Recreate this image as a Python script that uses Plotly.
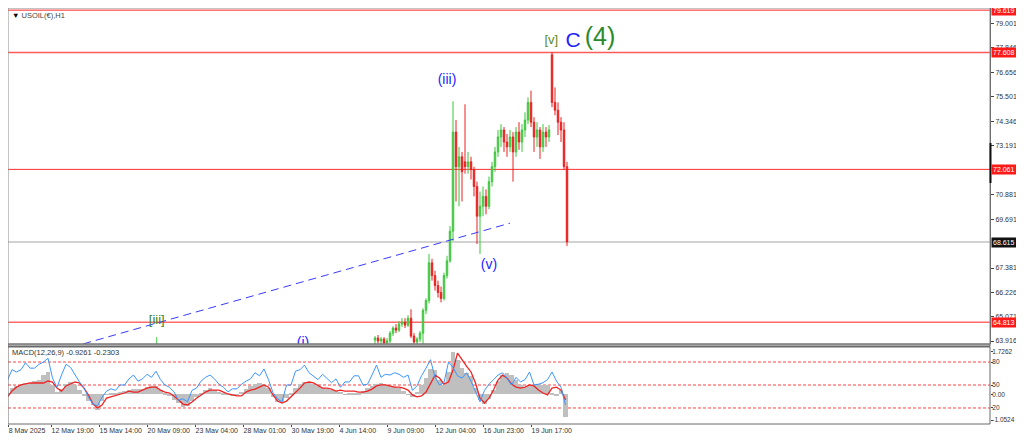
import plotly.graph_objects as go

# ---- price candles: H1 bar index, each candle spans 4 hourly bars ----
candle_bars = [205] + list(range(496, 753, 4))
candle_open = [63.20,
               63.96, 64.06, 63.92, 64.01, 63.82, 63.92, 64.29, 64.53, 64.43, 64.72,
               64.81, 64.67, 65.00, 64.15, 63.87, 64.01, 64.29, 65.37, 65.84, 67.63,
               67.02, 66.55, 66.22, 65.94, 67.02, 67.72, 69.13, 73.83, 72.19, 72.66,
               72.42, 72.19, 72.42, 72.05, 71.25, 69.84, 70.31, 70.78, 70.31, 71.48,
               72.19, 72.89, 73.60, 73.93, 73.36, 73.13, 73.60, 72.89, 73.83, 73.36,
               73.93, 74.40, 75.24, 74.30, 73.60, 73.93, 73.13, 73.83, 73.60, 77.50,
               75.24, 74.87, 74.30, 73.93, 72.19]
candle_high = [64.10,
               64.15, 64.20, 64.10, 64.10, 64.06, 64.39, 64.62, 64.72, 64.86, 65.00,
               65.00, 65.14, 65.42, 64.29, 64.10, 64.39, 65.47, 65.94, 68.05, 67.82,
               67.25, 66.78, 66.50, 67.16, 67.96, 69.37, 75.29, 74.40, 73.13, 72.89,
               75.15, 72.89, 72.66, 72.19, 71.48, 71.01, 71.25, 71.11, 71.72, 72.42,
               73.13, 73.93, 74.21, 74.07, 73.74, 73.93, 73.83, 74.07, 74.30, 74.21,
               74.77, 75.48, 75.80, 74.54, 74.30, 74.07, 74.21, 74.07, 74.16, 77.62,
               75.95, 75.24, 74.54, 74.30, 72.42]
candle_low = [63.00,
              63.78, 63.78, 63.73, 63.68, 63.68, 63.82, 64.15, 64.29, 64.34, 64.58,
              64.53, 64.58, 64.06, 63.73, 63.73, 63.87, 63.78, 65.19, 65.70, 66.78,
              66.31, 65.98, 65.75, 65.84, 66.88, 67.63, 68.66, 70.54, 70.31, 70.54,
              71.86, 71.86, 71.58, 70.78, 68.52, 68.05, 69.84, 69.93, 70.17, 71.25,
              71.95, 72.66, 73.13, 72.89, 72.66, 72.89, 71.48, 72.66, 72.99, 72.89,
              73.60, 74.21, 74.07, 72.89, 73.13, 72.56, 72.89, 73.13, 73.36, 75.01,
              74.63, 73.69, 73.36, 72.05, 68.43]
candle_close = [63.70,
                64.06, 63.92, 64.01, 63.82, 63.92, 64.29, 64.53, 64.43, 64.72, 64.81,
                64.67, 65.00, 64.15, 63.87, 64.01, 64.29, 65.37, 65.84, 67.63, 67.02,
                66.55, 66.22, 65.94, 67.02, 67.72, 69.13, 73.83, 72.19, 72.66, 71.95,
                72.19, 72.42, 72.05, 71.25, 69.84, 70.31, 70.78, 70.31, 71.48, 72.19,
                72.89, 73.60, 73.93, 73.36, 73.13, 73.60, 72.89, 73.83, 73.36, 73.93,
                74.40, 75.24, 74.30, 73.60, 73.93, 73.13, 73.83, 73.60, 73.93, 75.24,
                74.87, 74.30, 73.93, 72.19, 68.62]

# horizontal levels
level_prices = [79.619, 77.608, 72.061, 64.813]
bid_price = 68.615

# blue dashed trendline
trend_bars = [107, 676]
trend_prices = [63.78, 69.51]

# Elliott wave labels
wave_text = ['[iii]', '(i)', '(iii)', '(v)', '[v]', 'C', '(4)']
wave_bars = [205, 400, 592, 648, 731, 760, 796]
wave_prices = [64.90, 63.80, 76.27, 67.49, 78.15, 78.11, 78.25]
wave_colors = ['#3d7f22', '#2323ff', '#2323ff', '#2323ff', '#5e8a1c', '#2323ff', '#2a8a2a']
wave_sizes = [13, 14, 14, 14, 13, 21, 25]

# price axis labels
price_tick_vals = [79.001, 77.846, 76.656, 75.501, 74.346, 73.191, 70.881, 69.691,
                   67.381, 66.226, 65.071, 63.916]

# time axis (first label sits at the left edge of the window)
time_tick_bars = [7, 64, 128, 192, 256, 320, 384, 448, 512, 576, 640, 704]
time_tick_labels = ['8 May 2025', '12 May 19:00', '15 May 14:00', '20 May 09:00',
                    '23 May 04:00', '28 May 01:00', '30 May 19:00', '4 Jun 14:00',
                    '9 Jun 09:00', '12 Jun 04:00', '16 Jun 23:00', '19 Jun 17:00']

# MACD sub-window, sampled every 6 bars
macd_bars = list(range(0, 751, 6))
macd_hist = [-0.24, 0.01, 0.25, 0.34, 0.42, 0.46, 0.46, 0.54, 0.58, 0.78,
             0.91, 0.38, 0.09, 0.21, 0.42, 0.50, 0.38, 0.17, -0.07, -0.28,
             -0.44, -0.65, -0.28, -0.03, 0.05, 0.05, 0.09, 0.13, 0.17, 0.21,
             0.21, 0.21, 0.29, 0.34, 0.34, 0.17, 0.05, -0.07, -0.24, -0.36,
             -0.52, -0.48, -0.28, -0.11, 0.01, 0.17, 0.25, 0.17, 0.09, 0.01,
             -0.03, -0.07, -0.03, 0.09, 0.21, 0.34, 0.42, 0.46, 0.42, 0.25,
             -0.11, -0.32, -0.32, -0.16, 0.05, 0.25, 0.42, 0.50, 0.50, 0.42,
             0.34, 0.25, 0.21, 0.17, 0.13, 0.09, -0.03, 0.01, 0.05, 0.05,
             0.13, 0.25, 0.34, 0.42, 0.46, 0.38, 0.34, 0.29, 0.25, 0.13,
             -0.03, -0.11, 0.09, 0.38, 0.66, 1.03, 0.99, 0.58, 0.38, 0.91,
             1.73, 1.40, 1.07, 0.87, 0.74, 0.25, -0.24, -0.40, -0.20, 0.17,
             0.54, 0.78, 0.87, 0.78, 0.58, 0.38, 0.29, 0.34, 0.42, 0.42,
             0.38, 0.38, 0.05, -0.07, 0.17, -0.93]
macd_signal = [-0.16, -0.11, 0.13, 0.29, 0.38, 0.42, 0.46, 0.46, 0.46, 0.46,
               0.54, 0.50, 0.25, 0.13, 0.34, 0.42, 0.50, 0.46, 0.25, -0.03,
               -0.40, -0.56, -0.44, -0.16, -0.11, -0.07, 0.01, 0.05, 0.13, 0.09,
               0.09, 0.17, 0.25, 0.29, 0.29, 0.17, 0.09, 0.05, -0.07, -0.24,
               -0.40, -0.44, -0.32, -0.16, -0.03, 0.09, 0.17, 0.17, 0.17, 0.09,
               0.01, -0.03, -0.07, -0.07, 0.09, 0.17, 0.21, 0.29, 0.38, 0.29,
               -0.03, -0.28, -0.36, -0.28, -0.11, 0.05, 0.25, 0.46, 0.50, 0.46,
               0.34, 0.25, 0.25, 0.21, 0.13, 0.17, 0.13, 0.13, 0.13, 0.09,
               0.09, 0.13, 0.21, 0.34, 0.38, 0.38, 0.34, 0.29, 0.29, 0.25,
               0.17, -0.03, -0.11, -0.07, 0.09, 0.42, 0.78, 0.66, 0.42, 0.50,
               0.99, 1.68, 1.44, 1.15, 0.91, 0.46, -0.16, -0.36, -0.16, 0.17,
               0.58, 0.78, 0.66, 0.42, 0.29, 0.25, 0.29, 0.38, 0.34, 0.17,
               0.05, -0.03, 0.25, 0.29, 0.17, -0.23]
osc_line = [43, 57, 70, 67, 70, 79, 72, 72, 77, 80,
            85, 59, 47, 63, 77, 73, 63, 54, 46, 34,
            25, 23, 34, 42, 45, 43, 50, 50, 58, 63,
            55, 58, 64, 60, 68, 57, 50, 47, 41, 30,
            32, 28, 43, 46, 55, 60, 63, 58, 51, 47,
            41, 45, 45, 51, 55, 58, 66, 62, 71, 57,
            40, 32, 28, 50, 50, 68, 70, 76, 66, 62,
            57, 64, 58, 53, 58, 47, 54, 54, 62, 62,
            50, 51, 63, 76, 60, 64, 63, 66, 64, 60,
            63, 43, 49, 62, 72, 83, 60, 50, 53, 80,
            73, 62, 59, 66, 55, 42, 28, 43, 51, 57,
            63, 66, 59, 50, 60, 54, 57, 67, 50, 51,
            53, 57, 67, 55, 47, 24]
osc_levels = [80, 50, 20]

n_c = len(candle_bars)
assert all(len(a) == n_c for a in (candle_open, candle_high, candle_low, candle_close))
assert len(macd_bars) == len(macd_hist) == len(macd_signal) == len(osc_line)

# The page body keeps an 8px margin on every side, so the figure is sized to fit
# inside it (no scrollbars) and screen pixels are converted with that offset.
OFF = 8
FW, FH = 1024 - 2 * OFF, 441 - 2 * OFF


def px_x(x):
    return (x - OFF) / FW


def px_y(y):
    return 1 - (y - OFF) / FH


RIGHT_EDGE = 990
X0, X1 = px_x(OFF), px_x(RIGHT_EDGE)
MAIN_DOM = [px_y(344), px_y(OFF)]
MACD_DOM = [px_y(424), px_y(347)]
X_RANGE = [(OFF - 3) / 0.75, (RIGHT_EDGE - 3) / 0.75]
FONT = 'Liberation Sans'
AXIS_TXT = '#333333'
LBL = 7

fig = go.Figure()

fig.add_trace(go.Candlestick(
    x=candle_bars, open=candle_open, high=candle_high, low=candle_low, close=candle_close,
    xaxis='x', yaxis='y', whiskerwidth=0, hoverinfo='skip',
    increasing=dict(line=dict(color='#3cc43c', width=1), fillcolor='#62da62'),
    decreasing=dict(line=dict(color='#e82020', width=1), fillcolor='#e82020'),
))

fig.add_trace(go.Scatter(
    x=trend_bars, y=trend_prices, mode='lines', xaxis='x', yaxis='y',
    line=dict(color='#3a3aff', width=1, dash='8px,5px'), hoverinfo='skip'
))

fig.add_trace(go.Scatter(
    x=wave_bars, y=wave_prices, mode='text', text=wave_text, xaxis='x', yaxis='y',
    textposition='middle center', cliponaxis=True,
    textfont=dict(family=FONT, color=wave_colors, size=wave_sizes), hoverinfo='skip'
))

# MACD window
fig.add_trace(go.Bar(
    x=macd_bars, y=macd_hist, width=6, xaxis='x2', yaxis='y2',
    marker=dict(color='#bfbfbf', line=dict(width=0)), hoverinfo='skip'
))
fig.add_trace(go.Scatter(
    x=macd_bars, y=macd_signal, mode='lines', xaxis='x2', yaxis='y2',
    line=dict(color='#f02424', width=1.3), hoverinfo='skip'
))
fig.add_trace(go.Scatter(
    x=macd_bars, y=osc_line, mode='lines', xaxis='x2', yaxis='y3',
    line=dict(color='#3d96ff', width=1), hoverinfo='skip'
))

shapes = []
# horizontal price levels
for p, col, w in zip(level_prices, ['#ff2020', '#ff5a5a', '#ff3030', '#ff6a6a'], [1, 1.5, 1, 1.5]):
    shapes.append(dict(type='line', xref='x domain', yref='y', x0=0, x1=1, y0=p, y1=p,
                       line=dict(color=col, width=w), layer='below'))
shapes.append(dict(type='line', xref='x domain', yref='y', x0=0, x1=1, y0=bid_price, y1=bid_price,
                   line=dict(color='#d2d2d2', width=2), layer='below'))
# oscillator levels
for lv in osc_levels:
    shapes.append(dict(type='line', xref='x2 domain', yref='y3', x0=0, x1=1, y0=lv, y1=lv,
                       line=dict(color='#ff4040', width=1, dash='3px,2px'), layer='below'))
# panel frames
shapes.append(dict(type='rect', xref='paper', yref='paper', x0=X0, x1=X1,
                   y0=MAIN_DOM[0], y1=MAIN_DOM[1], line=dict(color='#8a8a8a', width=1)))
shapes.append(dict(type='rect', xref='paper', yref='paper', x0=X0, x1=X1,
                   y0=MACD_DOM[0], y1=MACD_DOM[1], line=dict(color='#6a6a6a', width=1)))
shapes.append(dict(type='rect', xref='paper', yref='paper', x0=X0, x1=X1,
                   y0=px_y(346.5), y1=MAIN_DOM[0], fillcolor='#a8a8a8',
                   line=dict(color='#6a6a6a', width=1)))
# black marker on price scale
shapes.append(dict(type='line', xref='paper', yref='paper', x0=px_x(RIGHT_EDGE + 0.5),
                   x1=px_x(RIGHT_EDGE + 0.5), y0=px_y(183), y1=px_y(143),
                   line=dict(color='#111111', width=2)))

annotations = []
for p, bg in zip(level_prices + [bid_price], ['#ff1a1a'] * 4 + ['#111111']):
    annotations.append(dict(
        xref='paper', yref='y', x=px_x(RIGHT_EDGE + 1), y=p, xanchor='left', yanchor='middle',
        text=f'{p:.3f}', showarrow=False, bgcolor=bg, borderpad=1,
        font=dict(family=FONT, size=LBL, color='white')
    ))
annotations.append(dict(
    xref='paper', yref='paper', x=px_x(10), y=px_y(15), xanchor='left', yanchor='middle',
    text="<span style='color:#000000'>▼</span> USOIL(€),H1", showarrow=False,
    font=dict(family=FONT, size=7.5, color='#444444')
))
annotations.append(dict(
    xref='paper', yref='paper', x=px_x(10), y=px_y(352), xanchor='left', yanchor='middle',
    text='MACD(12,26,9) -0.9261 -0.2303', showarrow=False,
    font=dict(family=FONT, size=7.5, color='#333333')
))

axis_common = dict(showgrid=False, zeroline=False, ticks='outside', ticklen=3,
                   automargin=False, tickcolor='#444444',
                   tickfont=dict(family=FONT, size=LBL, color=AXIS_TXT))
macd_axis = {**axis_common, 'ticklen': 2, 'ticklabelstandoff': -2,
             'tickfont': dict(family=FONT, size=6.5, color=AXIS_TXT)}

fig.update_layout(
    width=FW, height=FH, autosize=False,
    margin=dict(l=0, r=0, t=0, b=0, pad=0),
    paper_bgcolor='white', plot_bgcolor='white',
    showlegend=False, bargap=0,
    font=dict(family=FONT, size=LBL, color=AXIS_TXT),
    xaxis=dict(domain=[X0, X1], range=X_RANGE, anchor='y', showticklabels=False,
               showgrid=False, zeroline=False, ticks='', automargin=False,
               rangeslider=dict(visible=False)),
    yaxis=dict(domain=MAIN_DOM, range=[63.775, 79.72], side='right', anchor='x',
               tickvals=price_tick_vals, ticktext=[f'{v:.3f}' for v in price_tick_vals],
               showline=True, linecolor='#555555', **axis_common),
    xaxis2=dict(domain=[X0, X1], range=X_RANGE, anchor='y2', tickvals=time_tick_bars,
                ticktext=time_tick_labels, ticklabelposition='outside right', tickangle=0,
                **{**axis_common, 'ticklen': 2}),
    yaxis2=dict(domain=MACD_DOM, range=[-1.216, 1.93], side='right', anchor='x2',
                tickvals=[1.7262, 0, -1.0524], ticktext=['1.7262', '0.00', '-1.0524'],
                **macd_axis),
    yaxis3=dict(overlaying='y2', range=[-0.9, 99.6], side='right', anchor='x2',
                tickvals=osc_levels, ticktext=[str(v) for v in osc_levels], **macd_axis),
    shapes=shapes,
    annotations=annotations,
)

fig.write_html("out.html")
